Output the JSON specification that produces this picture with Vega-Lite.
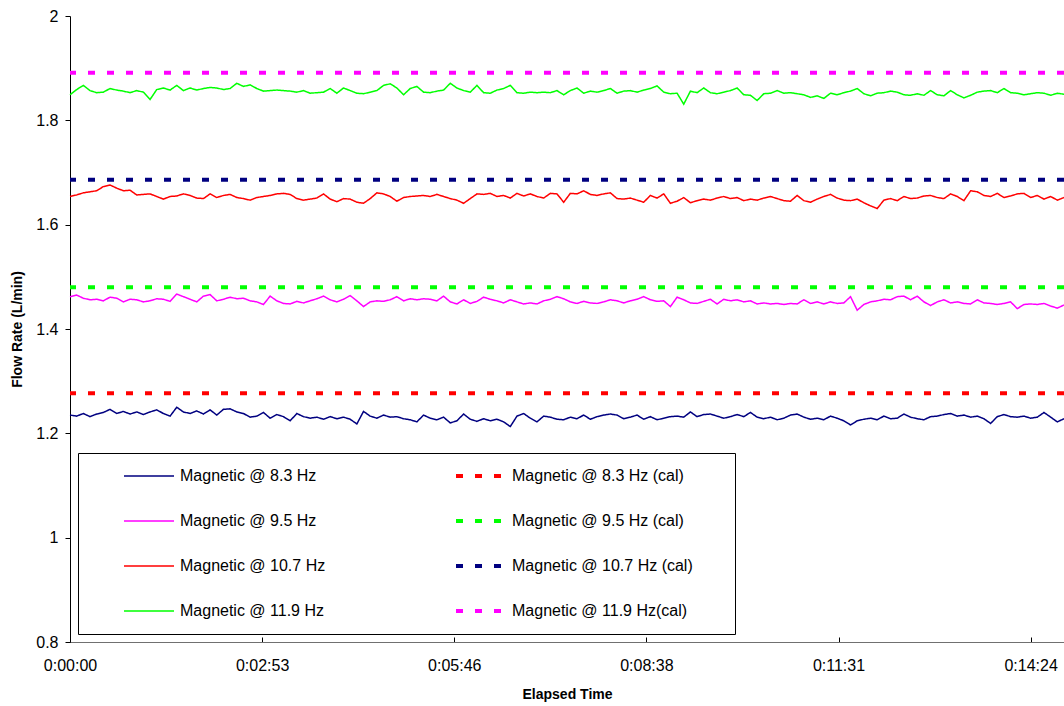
{
  "$schema": "https://vega.github.io/schema/vega-lite/v6.json",
  "width": 994,
  "height": 626,
  "autosize": {"type": "none"},
  "padding": {"left": 70, "top": 16, "right": 0, "bottom": 64},
  "background": "white",
  "config": {
    "view": {"stroke": null},
    "font": "Liberation Sans",
    "axis": {"grid": false, "labelFont": "Liberation Sans", "titleFont": "Liberation Sans", "labelColor": "#000", "titleColor": "#000", "tickColor": "#000", "labelFontSize": 16, "titleFontSize": 14, "titleFontWeight": "bold", "labelFlush": false, "labelOverlap": false}
  },
  "encoding": {
    "y": {"field": "v", "type": "quantitative", "scale": {"domain": [0.8, 2], "nice": false, "zero": false},
      "axis": {"title": "Flow Rate (L/min)", "values": [0.8, 1, 1.2, 1.4, 1.6, 1.8, 2], "format": ".1~f", "tickSize": 5, "labelPadding": 7, "domainColor": "#000", "titlePadding": 11}},
    "color": {"field": "s", "type": "nominal",
      "scale": {"domain": ["a", "b", "c", "d", "e", "f", "g", "h"], "range": ["#000080", "#FF00FF", "#FF0000", "#00FF00", "#FF0000", "#00FF00", "#000080", "#FF00FF"]},
      "legend": {"orient": "none", "legendX": 8, "legendY": 437, "columns": 2, "title": null, "fillColor": "white", "strokeColor": "#000", "padding": 15, "symbolType": "stroke", "symbolSize": 2500, "symbolOffset": 29, "clipHeight": 16, "labelFontSize": 16, "labelFont": "Liberation Sans", "labelColor": "#000", "labelOffset": 4, "rowPadding": 29, "columnPadding": 99, "labelLimit": 400,
        "labelExpr": "datum.value=='a'?'Magnetic @ 8.3 Hz':datum.value=='b'?'Magnetic @ 9.5 Hz':datum.value=='c'?'Magnetic @ 10.7 Hz':datum.value=='d'?'Magnetic @ 11.9 Hz':datum.value=='e'?'Magnetic @ 8.3 Hz (cal)      \u200b':datum.value=='f'?'Magnetic @ 9.5 Hz (cal)      \u200b':datum.value=='g'?'Magnetic @ 10.7 Hz (cal)      \u200b':'Magnetic @ 11.9 Hz(cal)      \u200b'"}},
    "strokeDash": {"field": "s", "type": "nominal",
      "scale": {"domain": ["a", "b", "c", "d", "e", "f", "g", "h"], "range": [[1, 0], [1, 0], [1, 0], [1, 0], [7, 12], [7, 12], [7, 12], [7, 12]]},
      "legend": {"orient": "none", "legendX": 8, "legendY": 437, "columns": 2, "title": null, "fillColor": "white", "strokeColor": "#000", "padding": 15, "symbolType": "stroke", "symbolSize": 2500, "symbolOffset": 29, "clipHeight": 16, "labelFontSize": 16, "labelFont": "Liberation Sans", "labelColor": "#000", "labelOffset": 4, "rowPadding": 29, "columnPadding": 99, "labelLimit": 400,
        "labelExpr": "datum.value=='a'?'Magnetic @ 8.3 Hz':datum.value=='b'?'Magnetic @ 9.5 Hz':datum.value=='c'?'Magnetic @ 10.7 Hz':datum.value=='d'?'Magnetic @ 11.9 Hz':datum.value=='e'?'Magnetic @ 8.3 Hz (cal)      \u200b':datum.value=='f'?'Magnetic @ 9.5 Hz (cal)      \u200b':datum.value=='g'?'Magnetic @ 10.7 Hz (cal)      \u200b':'Magnetic @ 11.9 Hz(cal)      \u200b'"}},
    "strokeWidth": {"field": "s", "type": "nominal",
      "scale": {"type": "ordinal", "domain": ["a", "b", "c", "d", "e", "f", "g", "h"], "range": [1.5, 1.5, 1.5, 1.5, 4, 4, 4, 4]},
      "legend": {"orient": "none", "legendX": 8, "legendY": 437, "columns": 2, "title": null, "fillColor": "white", "strokeColor": "#000", "padding": 15, "symbolType": "stroke", "symbolSize": 2500, "symbolOffset": 29, "clipHeight": 16, "labelFontSize": 16, "labelFont": "Liberation Sans", "labelColor": "#000", "labelOffset": 4, "rowPadding": 29, "columnPadding": 99, "labelLimit": 400,
        "labelExpr": "datum.value=='a'?'Magnetic @ 8.3 Hz':datum.value=='b'?'Magnetic @ 9.5 Hz':datum.value=='c'?'Magnetic @ 10.7 Hz':datum.value=='d'?'Magnetic @ 11.9 Hz':datum.value=='e'?'Magnetic @ 8.3 Hz (cal)      \u200b':datum.value=='f'?'Magnetic @ 9.5 Hz (cal)      \u200b':datum.value=='g'?'Magnetic @ 10.7 Hz (cal)      \u200b':'Magnetic @ 11.9 Hz(cal)      \u200b'"}}
  },
  "layer": [
    {
      "data": {"values": [
{"t":0,"a":1.235,"b":1.462,"c":1.654,"d":1.849},{"t":6,"a":1.233,"b":1.465,"c":1.657,"d":1.859},{"t":12,"a":1.238,"b":1.459,"c":1.661,"d":1.867},{"t":18,"a":1.232,"b":1.456,"c":1.663,"d":1.857},{"t":24,"a":1.237,"b":1.457,"c":1.665,"d":1.853},
{"t":30,"a":1.240,"b":1.454,"c":1.673,"d":1.854},{"t":36,"a":1.246,"b":1.461,"c":1.676,"d":1.861},{"t":42,"a":1.238,"b":1.459,"c":1.670,"d":1.858},{"t":48,"a":1.242,"b":1.452,"c":1.665,"d":1.856},{"t":54,"a":1.237,"b":1.457,"c":1.666,"d":1.853},
{"t":60,"a":1.241,"b":1.456,"c":1.657,"d":1.857},{"t":66,"a":1.236,"b":1.452,"c":1.658,"d":1.854},{"t":72,"a":1.241,"b":1.454,"c":1.659,"d":1.840},{"t":78,"a":1.245,"b":1.458,"c":1.654,"d":1.859},{"t":84,"a":1.238,"b":1.457,"c":1.649,"d":1.862},
{"t":90,"a":1.233,"b":1.453,"c":1.654,"d":1.858},{"t":96,"a":1.250,"b":1.467,"c":1.655,"d":1.867},{"t":102,"a":1.241,"b":1.462,"c":1.659,"d":1.857},{"t":108,"a":1.238,"b":1.457,"c":1.656,"d":1.862},{"t":114,"a":1.243,"b":1.452,"c":1.651,"d":1.858},
{"t":120,"a":1.237,"b":1.463,"c":1.650,"d":1.861},{"t":126,"a":1.245,"b":1.466,"c":1.659,"d":1.863},{"t":132,"a":1.235,"b":1.454,"c":1.652,"d":1.862},{"t":138,"a":1.246,"b":1.457,"c":1.656,"d":1.859},{"t":144,"a":1.247,"b":1.461,"c":1.658,"d":1.861},
{"t":150,"a":1.241,"b":1.458,"c":1.652,"d":1.871},{"t":156,"a":1.238,"b":1.459,"c":1.650,"d":1.865},{"t":162,"a":1.231,"b":1.454,"c":1.647,"d":1.868},{"t":168,"a":1.233,"b":1.452,"c":1.652,"d":1.861},{"t":174,"a":1.240,"b":1.447,"c":1.654,"d":1.856},
{"t":180,"a":1.229,"b":1.463,"c":1.656,"d":1.857},{"t":186,"a":1.236,"b":1.454,"c":1.659,"d":1.858},{"t":192,"a":1.232,"b":1.449,"c":1.660,"d":1.857},{"t":198,"a":1.224,"b":1.448,"c":1.658,"d":1.856},{"t":204,"a":1.238,"b":1.453,"c":1.650,"d":1.854},
{"t":210,"a":1.232,"b":1.450,"c":1.647,"d":1.857},{"t":216,"a":1.229,"b":1.454,"c":1.649,"d":1.852},{"t":222,"a":1.231,"b":1.458,"c":1.651,"d":1.853},{"t":228,"a":1.227,"b":1.463,"c":1.659,"d":1.854},{"t":234,"a":1.232,"b":1.456,"c":1.649,"d":1.861},
{"t":240,"a":1.228,"b":1.452,"c":1.644,"d":1.852},{"t":246,"a":1.231,"b":1.457,"c":1.650,"d":1.862},{"t":252,"a":1.227,"b":1.464,"c":1.649,"d":1.857},{"t":258,"a":1.218,"b":1.454,"c":1.643,"d":1.852},{"t":264,"a":1.242,"b":1.443,"c":1.641,"d":1.851},
{"t":270,"a":1.233,"b":1.452,"c":1.650,"d":1.854},{"t":276,"a":1.229,"b":1.454,"c":1.661,"d":1.857},{"t":282,"a":1.235,"b":1.453,"c":1.659,"d":1.867},{"t":288,"a":1.231,"b":1.456,"c":1.654,"d":1.870},{"t":294,"a":1.232,"b":1.462,"c":1.645,"d":1.862},
{"t":300,"a":1.228,"b":1.454,"c":1.652,"d":1.849},{"t":306,"a":1.226,"b":1.458,"c":1.654,"d":1.861},{"t":312,"a":1.222,"b":1.456,"c":1.655,"d":1.865},{"t":318,"a":1.235,"b":1.458,"c":1.656,"d":1.854},{"t":324,"a":1.229,"b":1.457,"c":1.654,"d":1.853},
{"t":330,"a":1.226,"b":1.454,"c":1.658,"d":1.856},{"t":336,"a":1.231,"b":1.463,"c":1.654,"d":1.858},{"t":342,"a":1.220,"b":1.452,"c":1.650,"d":1.871},{"t":348,"a":1.224,"b":1.448,"c":1.647,"d":1.862},{"t":354,"a":1.237,"b":1.456,"c":1.641,"d":1.857},
{"t":360,"a":1.227,"b":1.449,"c":1.650,"d":1.854},{"t":366,"a":1.223,"b":1.453,"c":1.659,"d":1.867},{"t":372,"a":1.228,"b":1.461,"c":1.658,"d":1.853},{"t":378,"a":1.224,"b":1.457,"c":1.660,"d":1.852},{"t":384,"a":1.227,"b":1.454,"c":1.654,"d":1.858},
{"t":390,"a":1.222,"b":1.450,"c":1.656,"d":1.861},{"t":396,"a":1.213,"b":1.456,"c":1.651,"d":1.867},{"t":402,"a":1.233,"b":1.452,"c":1.660,"d":1.853},{"t":408,"a":1.238,"b":1.448,"c":1.655,"d":1.852},{"t":414,"a":1.229,"b":1.450,"c":1.659,"d":1.854},
{"t":420,"a":1.222,"b":1.448,"c":1.654,"d":1.853},{"t":426,"a":1.233,"b":1.454,"c":1.651,"d":1.854},{"t":432,"a":1.231,"b":1.457,"c":1.660,"d":1.853},{"t":438,"a":1.227,"b":1.462,"c":1.659,"d":1.857},{"t":444,"a":1.226,"b":1.458,"c":1.643,"d":1.849},
{"t":450,"a":1.231,"b":1.452,"c":1.660,"d":1.857},{"t":456,"a":1.228,"b":1.449,"c":1.659,"d":1.862},{"t":462,"a":1.235,"b":1.453,"c":1.665,"d":1.852},{"t":468,"a":1.227,"b":1.450,"c":1.658,"d":1.856},{"t":474,"a":1.232,"b":1.449,"c":1.656,"d":1.854},
{"t":480,"a":1.235,"b":1.452,"c":1.659,"d":1.857},{"t":486,"a":1.237,"b":1.456,"c":1.661,"d":1.861},{"t":492,"a":1.235,"b":1.454,"c":1.650,"d":1.852},{"t":498,"a":1.228,"b":1.450,"c":1.649,"d":1.856},{"t":504,"a":1.231,"b":1.454,"c":1.651,"d":1.857},
{"t":510,"a":1.235,"b":1.457,"c":1.647,"d":1.854},{"t":516,"a":1.227,"b":1.462,"c":1.643,"d":1.858},{"t":522,"a":1.232,"b":1.456,"c":1.656,"d":1.861},{"t":528,"a":1.226,"b":1.453,"c":1.651,"d":1.866},{"t":534,"a":1.229,"b":1.454,"c":1.659,"d":1.854},
{"t":540,"a":1.232,"b":1.443,"c":1.641,"d":1.851},{"t":546,"a":1.233,"b":1.461,"c":1.645,"d":1.852},{"t":552,"a":1.231,"b":1.456,"c":1.652,"d":1.831},{"t":558,"a":1.241,"b":1.450,"c":1.642,"d":1.856},{"t":564,"a":1.232,"b":1.449,"c":1.646,"d":1.853},
{"t":570,"a":1.236,"b":1.453,"c":1.649,"d":1.862},{"t":576,"a":1.237,"b":1.457,"c":1.647,"d":1.853},{"t":582,"a":1.233,"b":1.448,"c":1.651,"d":1.851},{"t":588,"a":1.229,"b":1.457,"c":1.654,"d":1.854},{"t":594,"a":1.232,"b":1.454,"c":1.650,"d":1.857},
{"t":600,"a":1.236,"b":1.456,"c":1.652,"d":1.862},{"t":606,"a":1.232,"b":1.452,"c":1.646,"d":1.849},{"t":612,"a":1.240,"b":1.454,"c":1.649,"d":1.848},{"t":618,"a":1.231,"b":1.448,"c":1.647,"d":1.838},{"t":624,"a":1.228,"b":1.450,"c":1.651,"d":1.851},
{"t":630,"a":1.231,"b":1.448,"c":1.654,"d":1.852},{"t":636,"a":1.226,"b":1.449,"c":1.650,"d":1.857},{"t":642,"a":1.229,"b":1.447,"c":1.646,"d":1.852},{"t":648,"a":1.235,"b":1.449,"c":1.645,"d":1.853},{"t":654,"a":1.237,"b":1.448,"c":1.656,"d":1.851},
{"t":660,"a":1.231,"b":1.456,"c":1.646,"d":1.849},{"t":666,"a":1.227,"b":1.449,"c":1.643,"d":1.844},{"t":672,"a":1.229,"b":1.452,"c":1.649,"d":1.847},{"t":678,"a":1.226,"b":1.448,"c":1.654,"d":1.842},{"t":684,"a":1.233,"b":1.452,"c":1.658,"d":1.852},
{"t":690,"a":1.229,"b":1.449,"c":1.651,"d":1.849},{"t":696,"a":1.224,"b":1.450,"c":1.647,"d":1.853},{"t":702,"a":1.216,"b":1.462,"c":1.646,"d":1.856},{"t":708,"a":1.224,"b":1.436,"c":1.649,"d":1.861},{"t":714,"a":1.227,"b":1.447,"c":1.642,"d":1.851},
{"t":720,"a":1.229,"b":1.452,"c":1.636,"d":1.847},{"t":726,"a":1.226,"b":1.454,"c":1.631,"d":1.852},{"t":732,"a":1.233,"b":1.457,"c":1.647,"d":1.853},{"t":738,"a":1.228,"b":1.456,"c":1.650,"d":1.856},{"t":744,"a":1.229,"b":1.462,"c":1.646,"d":1.854},
{"t":750,"a":1.237,"b":1.463,"c":1.654,"d":1.849},{"t":756,"a":1.231,"b":1.456,"c":1.650,"d":1.848},{"t":762,"a":1.228,"b":1.463,"c":1.651,"d":1.851},{"t":768,"a":1.226,"b":1.452,"c":1.655,"d":1.848},{"t":774,"a":1.232,"b":1.445,"c":1.656,"d":1.857},
{"t":780,"a":1.233,"b":1.452,"c":1.652,"d":1.849},{"t":786,"a":1.236,"b":1.456,"c":1.650,"d":1.847},{"t":792,"a":1.238,"b":1.450,"c":1.659,"d":1.857},{"t":798,"a":1.233,"b":1.452,"c":1.654,"d":1.849},{"t":804,"a":1.235,"b":1.449,"c":1.646,"d":1.843},
{"t":810,"a":1.231,"b":1.448,"c":1.665,"d":1.848},{"t":816,"a":1.233,"b":1.456,"c":1.663,"d":1.854},{"t":822,"a":1.228,"b":1.450,"c":1.656,"d":1.856},{"t":828,"a":1.219,"b":1.449,"c":1.654,"d":1.857},{"t":834,"a":1.232,"b":1.447,"c":1.660,"d":1.853},
{"t":840,"a":1.236,"b":1.449,"c":1.652,"d":1.861},{"t":846,"a":1.232,"b":1.452,"c":1.655,"d":1.853},{"t":852,"a":1.231,"b":1.439,"c":1.659,"d":1.852},{"t":858,"a":1.233,"b":1.447,"c":1.660,"d":1.849},{"t":864,"a":1.229,"b":1.448,"c":1.652,"d":1.851},
{"t":870,"a":1.231,"b":1.447,"c":1.656,"d":1.853},{"t":876,"a":1.240,"b":1.449,"c":1.649,"d":1.852},{"t":882,"a":1.231,"b":1.444,"c":1.654,"d":1.848},{"t":888,"a":1.222,"b":1.440,"c":1.647,"d":1.852},{"t":894,"a":1.228,"b":1.446,"c":1.652,"d":1.850}
      ]},
      "transform": [{"fold": ["a", "b", "c", "d"], "as": ["s", "v"]}],
      "mark": {"type": "line", "interpolate": "linear"},
      "encoding": {
        "x": {"field": "t", "type": "quantitative", "scale": {"domain": [0, 894], "nice": false, "zero": false},
          "axis": {"title": "Elapsed Time", "values": [0, 172.8, 345.6, 518.4, 691.2, 864], "tickSize": -5, "labelPadding": 20, "domainColor": "#707070", "titlePadding": 14,
            "labelExpr": "floor(round(datum.value)/3600) + ':' + (floor(round(datum.value)%3600/60) < 10 ? '0' : '') + floor(round(datum.value)%3600/60) + ':' + (round(datum.value)%60 < 10 ? '0' : '') + (round(datum.value)%60)"}}
      }
    },
    {
      "data": {"values": [
        {"s": "e", "v": 1.277},
        {"s": "f", "v": 1.48},
        {"s": "g", "v": 1.686},
        {"s": "h", "v": 1.891}
      ]},
      "mark": {"type": "rule"},
      "encoding": {}
    }
  ]
}
